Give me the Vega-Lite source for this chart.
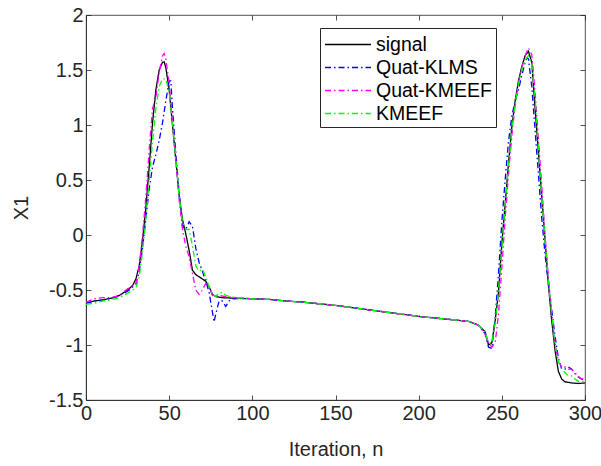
{
  "$schema": "https://vega.github.io/schema/vega-lite/v6.json",
  "autosize": {"type": "none"},
  "width": 499,
  "height": 385,
  "padding": {"left": 86, "top": 15, "right": 16, "bottom": 66},
  "background": "white",
  "config": {
    "font": "Liberation Sans",
    "view": {"stroke": "#262626", "strokeWidth": 0.8},
    "axis": {"grid": false, "domainColor": "#262626", "tickColor": "#262626", "labelColor": "#262626", "titleColor": "#262626", "labelFont": "Liberation Sans", "titleFont": "Liberation Sans", "labelFontSize": 20, "titleFontSize": 20, "titleFontWeight": "normal", "domainWidth": 0.8, "tickWidth": 0.8}
  },
  "data": {
    "values": [
      {"s":"signal","n":0,"v":-0.62},{"s":"signal","n":5,"v":-0.60},{"s":"signal","n":10,"v":-0.59},{"s":"signal","n":15,"v":-0.575},{"s":"signal","n":20,"v":-0.55},{"s":"signal","n":25,"v":-0.50},{"s":"signal","n":28,"v":-0.46},{"s":"signal","n":30,"v":-0.40},{"s":"signal","n":32,"v":-0.28},{"s":"signal","n":34,"v":-0.05},{"s":"signal","n":36,"v":0.25},{"s":"signal","n":38,"v":0.62},{"s":"signal","n":40,"v":1.02},{"s":"signal","n":42,"v":1.32},{"s":"signal","n":44,"v":1.50},{"s":"signal","n":46,"v":1.57},{"s":"signal","n":47,"v":1.575},{"s":"signal","n":48,"v":1.52},{"s":"signal","n":50,"v":1.32},{"s":"signal","n":52,"v":1.00},{"s":"signal","n":54,"v":0.68},{"s":"signal","n":56,"v":0.36},{"s":"signal","n":58,"v":0.14},{"s":"signal","n":60,"v":0.01},{"s":"signal","n":62,"v":-0.14},{"s":"signal","n":64,"v":-0.32},{"s":"signal","n":66,"v":-0.36},{"s":"signal","n":68,"v":-0.38},{"s":"signal","n":70,"v":-0.40},{"s":"signal","n":72,"v":-0.42},{"s":"signal","n":74,"v":-0.47},{"s":"signal","n":76,"v":-0.54},{"s":"signal","n":78,"v":-0.56},{"s":"signal","n":82,"v":-0.57},{"s":"signal","n":90,"v":-0.575},{"s":"signal","n":100,"v":-0.58},{"s":"signal","n":110,"v":-0.585},{"s":"signal","n":120,"v":-0.60},{"s":"signal","n":130,"v":-0.61},{"s":"signal","n":140,"v":-0.625},{"s":"signal","n":150,"v":-0.64},{"s":"signal","n":160,"v":-0.66},{"s":"signal","n":170,"v":-0.68},{"s":"signal","n":180,"v":-0.70},{"s":"signal","n":190,"v":-0.72},{"s":"signal","n":200,"v":-0.74},{"s":"signal","n":210,"v":-0.755},{"s":"signal","n":220,"v":-0.77},{"s":"signal","n":230,"v":-0.785},{"s":"signal","n":236,"v":-0.82},{"s":"signal","n":240,"v":-0.88},{"s":"signal","n":242,"v":-1.00},{"s":"signal","n":244,"v":-0.98},{"s":"signal","n":246,"v":-0.78},{"s":"signal","n":248,"v":-0.52},{"s":"signal","n":250,"v":-0.08},{"s":"signal","n":252,"v":0.28},{"s":"signal","n":254,"v":0.65},{"s":"signal","n":256,"v":0.98},{"s":"signal","n":258,"v":1.22},{"s":"signal","n":260,"v":1.40},{"s":"signal","n":262,"v":1.53},{"s":"signal","n":264,"v":1.63},{"s":"signal","n":266,"v":1.67},{"s":"signal","n":268,"v":1.57},{"s":"signal","n":270,"v":1.15},{"s":"signal","n":272,"v":0.75},{"s":"signal","n":274,"v":0.35},{"s":"signal","n":276,"v":-0.05},{"s":"signal","n":278,"v":-0.45},{"s":"signal","n":280,"v":-0.78},{"s":"signal","n":282,"v":-1.05},{"s":"signal","n":284,"v":-1.24},{"s":"signal","n":286,"v":-1.31},{"s":"signal","n":288,"v":-1.335},{"s":"signal","n":292,"v":-1.345},{"s":"signal","n":296,"v":-1.35},{"s":"signal","n":300,"v":-1.345},

      {"s":"Quat-KLMS","n":0,"v":-0.62},{"s":"Quat-KLMS","n":5,"v":-0.60},{"s":"Quat-KLMS","n":10,"v":-0.59},{"s":"Quat-KLMS","n":15,"v":-0.575},{"s":"Quat-KLMS","n":20,"v":-0.555},{"s":"Quat-KLMS","n":25,"v":-0.51},{"s":"Quat-KLMS","n":30,"v":-0.45},{"s":"Quat-KLMS","n":32,"v":-0.33},{"s":"Quat-KLMS","n":34,"v":-0.12},{"s":"Quat-KLMS","n":36,"v":0.15},{"s":"Quat-KLMS","n":38,"v":0.42},{"s":"Quat-KLMS","n":40,"v":0.62},{"s":"Quat-KLMS","n":42,"v":0.73},{"s":"Quat-KLMS","n":44,"v":0.86},{"s":"Quat-KLMS","n":46,"v":1.02},{"s":"Quat-KLMS","n":48,"v":1.22},{"s":"Quat-KLMS","n":50,"v":1.40},{"s":"Quat-KLMS","n":51,"v":1.40},{"s":"Quat-KLMS","n":52,"v":1.15},{"s":"Quat-KLMS","n":54,"v":0.75},{"s":"Quat-KLMS","n":56,"v":0.38},{"s":"Quat-KLMS","n":58,"v":0.08},{"s":"Quat-KLMS","n":60,"v":0.05},{"s":"Quat-KLMS","n":62,"v":0.12},{"s":"Quat-KLMS","n":64,"v":0.08},{"s":"Quat-KLMS","n":66,"v":-0.12},{"s":"Quat-KLMS","n":68,"v":-0.25},{"s":"Quat-KLMS","n":70,"v":-0.33},{"s":"Quat-KLMS","n":72,"v":-0.42},{"s":"Quat-KLMS","n":74,"v":-0.52},{"s":"Quat-KLMS","n":76,"v":-0.70},{"s":"Quat-KLMS","n":77,"v":-0.79},{"s":"Quat-KLMS","n":78,"v":-0.72},{"s":"Quat-KLMS","n":80,"v":-0.60},{"s":"Quat-KLMS","n":82,"v":-0.60},{"s":"Quat-KLMS","n":84,"v":-0.65},{"s":"Quat-KLMS","n":86,"v":-0.60},{"s":"Quat-KLMS","n":88,"v":-0.58},{"s":"Quat-KLMS","n":95,"v":-0.575},{"s":"Quat-KLMS","n":100,"v":-0.58},{"s":"Quat-KLMS","n":110,"v":-0.585},{"s":"Quat-KLMS","n":120,"v":-0.60},{"s":"Quat-KLMS","n":130,"v":-0.61},{"s":"Quat-KLMS","n":140,"v":-0.625},{"s":"Quat-KLMS","n":150,"v":-0.64},{"s":"Quat-KLMS","n":160,"v":-0.66},{"s":"Quat-KLMS","n":170,"v":-0.68},{"s":"Quat-KLMS","n":180,"v":-0.70},{"s":"Quat-KLMS","n":190,"v":-0.72},{"s":"Quat-KLMS","n":200,"v":-0.74},{"s":"Quat-KLMS","n":210,"v":-0.755},{"s":"Quat-KLMS","n":220,"v":-0.77},{"s":"Quat-KLMS","n":230,"v":-0.785},{"s":"Quat-KLMS","n":236,"v":-0.82},{"s":"Quat-KLMS","n":240,"v":-0.90},{"s":"Quat-KLMS","n":242,"v":-1.02},{"s":"Quat-KLMS","n":244,"v":-1.03},{"s":"Quat-KLMS","n":246,"v":-0.75},{"s":"Quat-KLMS","n":248,"v":-0.35},{"s":"Quat-KLMS","n":250,"v":0.12},{"s":"Quat-KLMS","n":252,"v":0.50},{"s":"Quat-KLMS","n":254,"v":0.85},{"s":"Quat-KLMS","n":256,"v":1.08},{"s":"Quat-KLMS","n":258,"v":1.22},{"s":"Quat-KLMS","n":260,"v":1.32},{"s":"Quat-KLMS","n":262,"v":1.45},{"s":"Quat-KLMS","n":264,"v":1.57},{"s":"Quat-KLMS","n":265,"v":1.61},{"s":"Quat-KLMS","n":266,"v":1.60},{"s":"Quat-KLMS","n":268,"v":1.35},{"s":"Quat-KLMS","n":270,"v":0.95},{"s":"Quat-KLMS","n":272,"v":0.55},{"s":"Quat-KLMS","n":274,"v":0.15},{"s":"Quat-KLMS","n":276,"v":-0.18},{"s":"Quat-KLMS","n":278,"v":-0.45},{"s":"Quat-KLMS","n":280,"v":-0.68},{"s":"Quat-KLMS","n":282,"v":-0.92},{"s":"Quat-KLMS","n":284,"v":-1.12},{"s":"Quat-KLMS","n":286,"v":-1.22},{"s":"Quat-KLMS","n":288,"v":-1.22},{"s":"Quat-KLMS","n":290,"v":-1.20},{"s":"Quat-KLMS","n":292,"v":-1.22},{"s":"Quat-KLMS","n":294,"v":-1.26},{"s":"Quat-KLMS","n":296,"v":-1.29},{"s":"Quat-KLMS","n":298,"v":-1.31},{"s":"Quat-KLMS","n":300,"v":-1.32},

      {"s":"Quat-KMEEF","n":0,"v":-0.61},{"s":"Quat-KMEEF","n":5,"v":-0.58},{"s":"Quat-KMEEF","n":10,"v":-0.57},{"s":"Quat-KMEEF","n":15,"v":-0.57},{"s":"Quat-KMEEF","n":20,"v":-0.55},{"s":"Quat-KMEEF","n":25,"v":-0.49},{"s":"Quat-KMEEF","n":30,"v":-0.44},{"s":"Quat-KMEEF","n":32,"v":-0.28},{"s":"Quat-KMEEF","n":34,"v":0.0},{"s":"Quat-KMEEF","n":36,"v":0.35},{"s":"Quat-KMEEF","n":38,"v":0.78},{"s":"Quat-KMEEF","n":40,"v":1.15},{"s":"Quat-KMEEF","n":42,"v":1.25},{"s":"Quat-KMEEF","n":44,"v":1.48},{"s":"Quat-KMEEF","n":46,"v":1.63},{"s":"Quat-KMEEF","n":47,"v":1.65},{"s":"Quat-KMEEF","n":48,"v":1.60},{"s":"Quat-KMEEF","n":50,"v":1.38},{"s":"Quat-KMEEF","n":52,"v":1.05},{"s":"Quat-KMEEF","n":54,"v":0.68},{"s":"Quat-KMEEF","n":56,"v":0.32},{"s":"Quat-KMEEF","n":58,"v":0.05},{"s":"Quat-KMEEF","n":60,"v":-0.10},{"s":"Quat-KMEEF","n":62,"v":-0.20},{"s":"Quat-KMEEF","n":64,"v":-0.35},{"s":"Quat-KMEEF","n":66,"v":-0.50},{"s":"Quat-KMEEF","n":68,"v":-0.54},{"s":"Quat-KMEEF","n":70,"v":-0.50},{"s":"Quat-KMEEF","n":72,"v":-0.44},{"s":"Quat-KMEEF","n":74,"v":-0.47},{"s":"Quat-KMEEF","n":76,"v":-0.55},{"s":"Quat-KMEEF","n":80,"v":-0.55},{"s":"Quat-KMEEF","n":84,"v":-0.56},{"s":"Quat-KMEEF","n":90,"v":-0.57},{"s":"Quat-KMEEF","n":100,"v":-0.58},{"s":"Quat-KMEEF","n":110,"v":-0.585},{"s":"Quat-KMEEF","n":120,"v":-0.60},{"s":"Quat-KMEEF","n":130,"v":-0.61},{"s":"Quat-KMEEF","n":140,"v":-0.625},{"s":"Quat-KMEEF","n":150,"v":-0.64},{"s":"Quat-KMEEF","n":160,"v":-0.66},{"s":"Quat-KMEEF","n":170,"v":-0.68},{"s":"Quat-KMEEF","n":180,"v":-0.70},{"s":"Quat-KMEEF","n":190,"v":-0.72},{"s":"Quat-KMEEF","n":200,"v":-0.74},{"s":"Quat-KMEEF","n":210,"v":-0.755},{"s":"Quat-KMEEF","n":220,"v":-0.77},{"s":"Quat-KMEEF","n":230,"v":-0.785},{"s":"Quat-KMEEF","n":236,"v":-0.82},{"s":"Quat-KMEEF","n":240,"v":-0.90},{"s":"Quat-KMEEF","n":242,"v":-0.98},{"s":"Quat-KMEEF","n":244,"v":-1.02},{"s":"Quat-KMEEF","n":246,"v":-0.98},{"s":"Quat-KMEEF","n":248,"v":-0.72},{"s":"Quat-KMEEF","n":250,"v":-0.30},{"s":"Quat-KMEEF","n":252,"v":0.15},{"s":"Quat-KMEEF","n":254,"v":0.55},{"s":"Quat-KMEEF","n":256,"v":0.90},{"s":"Quat-KMEEF","n":258,"v":1.18},{"s":"Quat-KMEEF","n":260,"v":1.38},{"s":"Quat-KMEEF","n":262,"v":1.52},{"s":"Quat-KMEEF","n":264,"v":1.63},{"s":"Quat-KMEEF","n":266,"v":1.70},{"s":"Quat-KMEEF","n":268,"v":1.64},{"s":"Quat-KMEEF","n":270,"v":1.30},{"s":"Quat-KMEEF","n":272,"v":0.88},{"s":"Quat-KMEEF","n":274,"v":0.45},{"s":"Quat-KMEEF","n":276,"v":0.0},{"s":"Quat-KMEEF","n":278,"v":-0.38},{"s":"Quat-KMEEF","n":280,"v":-0.70},{"s":"Quat-KMEEF","n":282,"v":-0.98},{"s":"Quat-KMEEF","n":284,"v":-1.15},{"s":"Quat-KMEEF","n":286,"v":-1.20},{"s":"Quat-KMEEF","n":288,"v":-1.20},{"s":"Quat-KMEEF","n":290,"v":-1.22},{"s":"Quat-KMEEF","n":292,"v":-1.22},{"s":"Quat-KMEEF","n":294,"v":-1.25},{"s":"Quat-KMEEF","n":296,"v":-1.29},{"s":"Quat-KMEEF","n":298,"v":-1.31},{"s":"Quat-KMEEF","n":300,"v":-1.30},

      {"s":"KMEEF","n":0,"v":-0.63},{"s":"KMEEF","n":5,"v":-0.62},{"s":"KMEEF","n":10,"v":-0.60},{"s":"KMEEF","n":15,"v":-0.59},{"s":"KMEEF","n":20,"v":-0.57},{"s":"KMEEF","n":25,"v":-0.53},{"s":"KMEEF","n":30,"v":-0.48},{"s":"KMEEF","n":32,"v":-0.38},{"s":"KMEEF","n":34,"v":-0.15},{"s":"KMEEF","n":36,"v":0.15},{"s":"KMEEF","n":38,"v":0.50},{"s":"KMEEF","n":40,"v":0.85},{"s":"KMEEF","n":42,"v":1.15},{"s":"KMEEF","n":44,"v":1.35},{"s":"KMEEF","n":46,"v":1.42},{"s":"KMEEF","n":48,"v":1.42},{"s":"KMEEF","n":50,"v":1.30},{"s":"KMEEF","n":52,"v":1.02},{"s":"KMEEF","n":54,"v":0.70},{"s":"KMEEF","n":56,"v":0.35},{"s":"KMEEF","n":58,"v":0.12},{"s":"KMEEF","n":60,"v":0.05},{"s":"KMEEF","n":62,"v":0.05},{"s":"KMEEF","n":64,"v":-0.10},{"s":"KMEEF","n":66,"v":-0.28},{"s":"KMEEF","n":68,"v":-0.33},{"s":"KMEEF","n":70,"v":-0.31},{"s":"KMEEF","n":72,"v":-0.38},{"s":"KMEEF","n":74,"v":-0.47},{"s":"KMEEF","n":76,"v":-0.54},{"s":"KMEEF","n":78,"v":-0.56},{"s":"KMEEF","n":80,"v":-0.53},{"s":"KMEEF","n":82,"v":-0.52},{"s":"KMEEF","n":84,"v":-0.55},{"s":"KMEEF","n":90,"v":-0.57},{"s":"KMEEF","n":100,"v":-0.58},{"s":"KMEEF","n":110,"v":-0.585},{"s":"KMEEF","n":120,"v":-0.60},{"s":"KMEEF","n":130,"v":-0.61},{"s":"KMEEF","n":140,"v":-0.625},{"s":"KMEEF","n":150,"v":-0.64},{"s":"KMEEF","n":160,"v":-0.66},{"s":"KMEEF","n":170,"v":-0.68},{"s":"KMEEF","n":180,"v":-0.70},{"s":"KMEEF","n":190,"v":-0.72},{"s":"KMEEF","n":200,"v":-0.74},{"s":"KMEEF","n":210,"v":-0.755},{"s":"KMEEF","n":220,"v":-0.77},{"s":"KMEEF","n":230,"v":-0.785},{"s":"KMEEF","n":236,"v":-0.82},{"s":"KMEEF","n":240,"v":-0.88},{"s":"KMEEF","n":242,"v":-0.98},{"s":"KMEEF","n":244,"v":-0.98},{"s":"KMEEF","n":246,"v":-0.80},{"s":"KMEEF","n":248,"v":-0.50},{"s":"KMEEF","n":250,"v":-0.12},{"s":"KMEEF","n":252,"v":0.28},{"s":"KMEEF","n":254,"v":0.62},{"s":"KMEEF","n":256,"v":0.95},{"s":"KMEEF","n":258,"v":1.20},{"s":"KMEEF","n":260,"v":1.37},{"s":"KMEEF","n":262,"v":1.50},{"s":"KMEEF","n":264,"v":1.59},{"s":"KMEEF","n":266,"v":1.63},{"s":"KMEEF","n":268,"v":1.55},{"s":"KMEEF","n":270,"v":1.25},{"s":"KMEEF","n":272,"v":0.80},{"s":"KMEEF","n":274,"v":0.35},{"s":"KMEEF","n":276,"v":-0.05},{"s":"KMEEF","n":278,"v":-0.42},{"s":"KMEEF","n":280,"v":-0.72},{"s":"KMEEF","n":282,"v":-1.00},{"s":"KMEEF","n":284,"v":-1.15},{"s":"KMEEF","n":286,"v":-1.22},{"s":"KMEEF","n":288,"v":-1.25},{"s":"KMEEF","n":290,"v":-1.28},{"s":"KMEEF","n":292,"v":-1.28},{"s":"KMEEF","n":294,"v":-1.31},{"s":"KMEEF","n":296,"v":-1.33},{"s":"KMEEF","n":298,"v":-1.33},{"s":"KMEEF","n":300,"v":-1.33}
    ]
  },
  "layer": [
    {
      "mark": {"type": "line", "strokeWidth": 1.3, "clip": true},
      "encoding": {
        "x": {"field": "n", "type": "quantitative", "scale": {"domain": [0, 300], "nice": false, "zero": false},
              "axis": {"values": [0,50,100,150,200,250,300], "tickSize": -5, "labelPadding": 8, "title": "Iteration, n", "titlePadding": 16, "labelFlush": false, "labelOverlap": false}},
        "y": {"field": "v", "type": "quantitative", "scale": {"domain": [-1.5, 2], "nice": false, "zero": false},
              "axis": {"values": [-1.5,-1,-0.5,0,0.5,1,1.5,2], "tickSize": -5, "labelPadding": 8, "title": "X1", "titlePadding": 17, "labelOverlap": false, "labelExpr": "replace(format(datum.value, '~g'), '−', '-')"}},
        "color": {"field": "s", "type": "nominal", "sort": null,
                  "scale": {"domain": ["signal","Quat-KLMS","Quat-KMEEF","KMEEF"], "range": ["#000000","#0000FF","#FF00FF","#00FF00"]},
                  "legend": {"title": null, "orient": "none", "legendX": 234, "legendY": 13, "fillColor": "white", "strokeColor": "#262626", "padding": 4, "symbolType": "M-1,0H3", "symbolSize": 529, "symbolStrokeWidth": 1.3, "labelFontSize": 19.5, "labelFont": "Liberation Sans", "labelColor": "#000000", "rowPadding": 1, "labelOffset": 27}},
        "strokeDash": {"field": "s", "type": "nominal", "sort": null,
                  "scale": {"domain": ["signal","Quat-KLMS","Quat-KMEEF","KMEEF"], "range": [[1,0],[6,3,1.5,3],[6,3,1.5,3],[6,3,1.5,3]]},
                  "legend": {"title": null, "orient": "none", "legendX": 234, "legendY": 13, "fillColor": "white", "strokeColor": "#262626", "padding": 4, "symbolType": "M-1,0H3", "symbolSize": 529, "symbolStrokeWidth": 1.3, "labelFontSize": 19.5, "labelFont": "Liberation Sans", "labelColor": "#000000", "rowPadding": 1, "labelOffset": 27}}
      }
    },
    {
      "mark": {"type": "rule", "opacity": 0},
      "encoding": {
        "x": {"datum": 0, "type": "quantitative", "axis": {"orient": "top", "values": [0,50,100,150,200,250,300], "tickSize": -5, "labels": false, "title": null, "domain": false}},
        "y": {"datum": 0, "type": "quantitative", "axis": {"orient": "right", "values": [-1.5,-1,-0.5,0,0.5,1,1.5,2], "tickSize": -5, "labels": false, "title": null, "domain": false}}
      }
    }
  ],
  "resolve": {"axis": {"x": "independent", "y": "independent"}}
}
